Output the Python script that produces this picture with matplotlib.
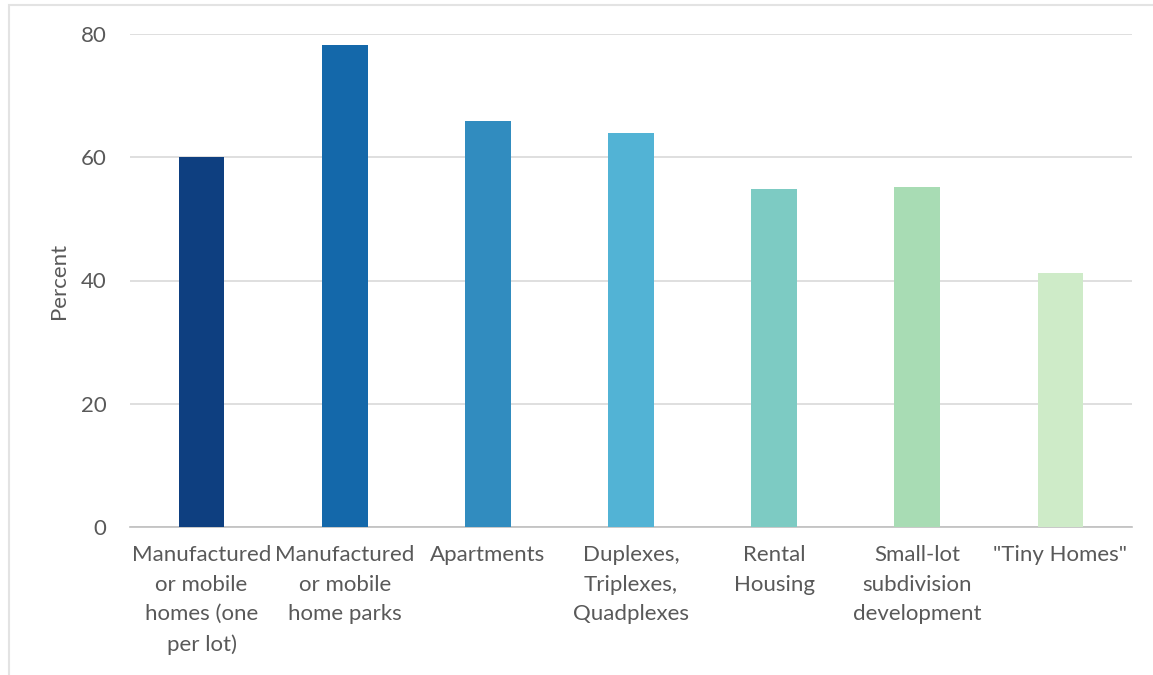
import matplotlib.pyplot as plt
from matplotlib.patches import Rectangle

plt.rcParams['font.family'] = ['Lato', 'DejaVu Sans']

categories = ['Manufactured\nor mobile\nhomes (one\nper lot)',
              'Manufactured\nor mobile\nhome parks',
              'Apartments',
              'Duplexes,\nTriplexes,\nQuadplexes',
              'Rental\nHousing',
              'Small-lot\nsubdivision\ndevelopment',
              '"Tiny Homes"']
values = [60.0, 78.2, 65.9, 63.9, 54.8, 55.1, 41.2]
colors = ['#0e3f80', '#1468aa', '#318cbf', '#52b3d5', '#7dcbc3', '#a8dcb4', '#ceebc8']
yticks = [0, 20, 40, 60, 80]

txt = '#595959'

fig = plt.figure(figsize=(11.53, 6.75), dpi=100)
ax = fig.add_axes([130/1153, 1 - 527/675, (1132-130)/1153, (527-34)/675])

x = range(len(values))
ax.bar(x, values, width=0.32, color=colors, zorder=3)

ax.set_xlim(-0.5, len(values) - 0.5)
ax.set_ylim(0, 80)
ax.set_yticks(yticks)
ax.yaxis.grid(True, color='#d9d9d9', linewidth=1.2, zorder=0)
ax.set_xticks(list(x))
ax.set_xticklabels(categories, fontsize=16, color=txt, linespacing=1.6, va='top')
ax.tick_params(axis='x', length=0, pad=13)
ax.tick_params(axis='y', length=0, pad=17, labelsize=16, labelcolor=txt)
for s in ['top', 'right', 'left']:
    ax.spines[s].set_visible(False)
ax.spines['bottom'].set_color('#bfbfbf')
ax.spines['bottom'].set_linewidth(1.2)
ax.set_ylabel('Percent', fontsize=16, color=txt, labelpad=8)

# light outer frame
fig.patches.append(Rectangle((9/1153, -0.01), 1.0, 1 - 5/675 + 0.01, transform=fig.transFigure,
                             fill=False, edgecolor='#e3e3e3', linewidth=1.5))

fig.savefig('out.png', dpi=100)
